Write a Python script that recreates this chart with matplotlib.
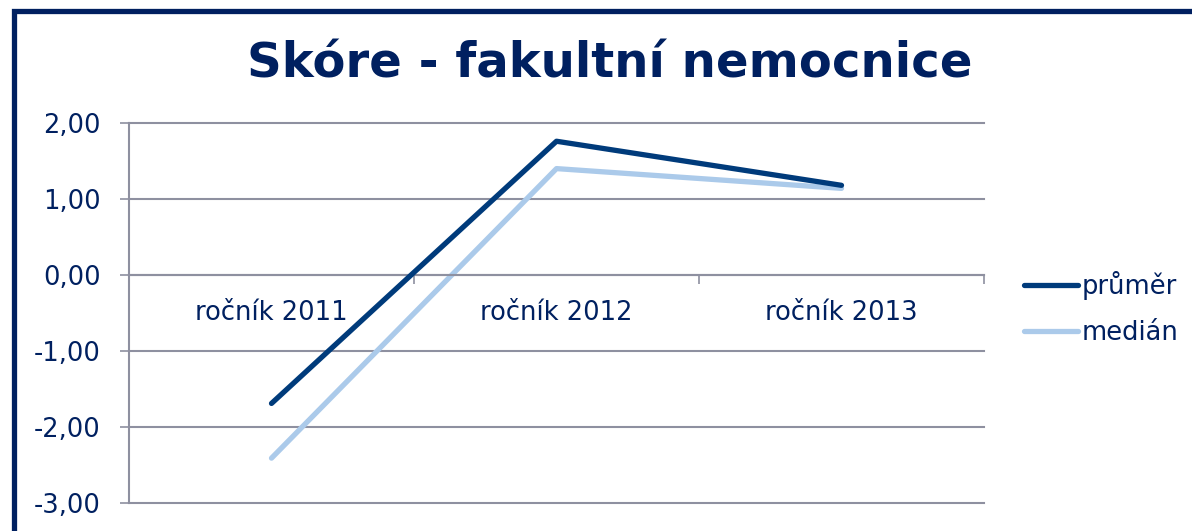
import matplotlib
matplotlib.use("Agg")
import matplotlib.pyplot as plt
from matplotlib.patches import Rectangle
from matplotlib.ticker import FuncFormatter

# data
categories = ["ročník 2011", "ročník 2012", "ročník 2013"]
prumer = [-1.69, 1.76, 1.18]
median = [-2.41, 1.40, 1.14]
series_names = ["průměr", "medián"]

navy = "#002060"
dark_line = "#003B7B"
light_line = "#ABCAEA"
grid_col = "#8E90A0"

W, H = 1192, 531
fig = plt.figure(figsize=(W / 100, H / 100), dpi=100)
plt.rcParams['font.family'] = ['DejaVu Sans']

# frame around the chart (runs past right and bottom edge like the crop)
fig.patches.append(Rectangle((13.5 / W, -0.2), 1.3, (H - 10.5) / H + 0.2,
                             transform=fig.transFigure, fill=False,
                             edgecolor=navy, linewidth=3.8, clip_on=False))

ax = fig.add_axes([129 / W, (H - 503) / H, (984 - 129) / W, (503 - 123) / H])

x = list(range(len(categories)))
ax.plot(x, prumer, color=dark_line, lw=3.8, solid_capstyle='round', label=series_names[0], zorder=3)
ax.plot(x, median, color=light_line, lw=3.8, solid_capstyle='round', label=series_names[1], zorder=2)

ax.set_xlim(-0.5, 2.5)
ax.set_ylim(-3, 2)
ax.set_yticks([2, 1, 0, -1, -2, -3])
ax.yaxis.set_major_formatter(FuncFormatter(lambda v, p: ("%.2f" % v).replace(".", ",")))
ax.grid(axis='y', color=grid_col, lw=1.5)
ax.set_axisbelow(True)
for gl in ax.get_ygridlines():
    gl.set_clip_on(False)

for s in ["top", "right"]:
    ax.spines[s].set_visible(False)
ax.spines["left"].set_color(grid_col)
ax.spines["left"].set_linewidth(1.5)
ax.spines["bottom"].set_position(("data", 0))
ax.spines["bottom"].set_color(grid_col)
ax.spines["bottom"].set_linewidth(1.5)

# boundary ticks on the zero axis, labels at category centres
ax.set_xticks([-0.5, 0.5, 1.5, 2.5])
ax.set_xticklabels([])
ax.set_xticks(x, minor=True)
ax.set_xticklabels(categories, minor=True)
ax.tick_params(axis='x', which='major', direction='out', length=6.5, width=1.2, color=grid_col)
ax.tick_params(axis='x', which='minor', length=0, pad=18, labelsize=18.5, labelcolor=navy)
ax.tick_params(axis='y', direction='out', length=6.5, width=1.2, color=grid_col,
               pad=14, labelsize=18.5, labelcolor=navy)

fig.text(610 / W, (H - 64) / H, "Skóre - fakultní nemocnice", ha='center', va='center',
         fontsize=34.7, fontweight='bold', color=navy)

leg = ax.legend(loc='center left', bbox_to_anchor=(1.035, 0.512), frameon=False,
                fontsize=18.5, handlelength=2.1, handletextpad=0.15, labelspacing=0.8,
                borderaxespad=0)
for t in leg.get_texts():
    t.set_color(navy)

fig.savefig("out.png", dpi=100)
